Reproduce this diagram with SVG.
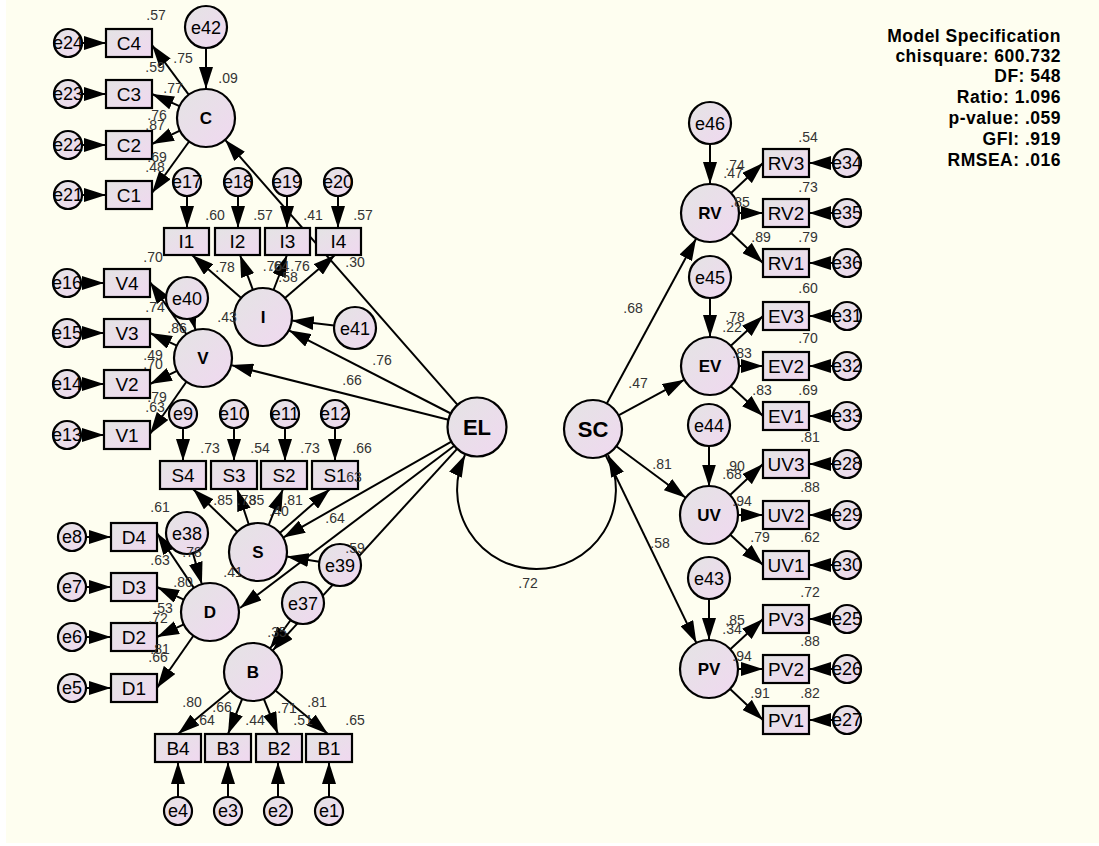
<svg xmlns="http://www.w3.org/2000/svg" width="1099" height="846" viewBox="0 0 1099 846">
<defs>
<linearGradient id="g" x1="0" y1="0" x2="1" y2="1"><stop offset="0" stop-color="#E4E4E4"/><stop offset="1" stop-color="#F0D8F0"/></linearGradient>
<marker id="ah" markerUnits="userSpaceOnUse" markerWidth="22" markerHeight="14" viewBox="0 0 22 14" refX="22" refY="7" orient="auto"><path d="M0,0 L22,7 L0,14 z" fill="#000"/></marker>
<marker id="ah2" markerUnits="userSpaceOnUse" markerWidth="22" markerHeight="14" viewBox="0 0 22 14" refX="22" refY="7" orient="auto-start-reverse"><path d="M0,0 L22,7 L0,14 z" fill="#000"/></marker>
<style>
.c path{stroke:#000;stroke-width:2;fill:none;marker-end:url(#ah)}
.n circle,.n rect{fill:url(#g);stroke:#000;stroke-width:2.2}
text{font-family:"Liberation Sans",Arial,sans-serif;text-anchor:middle}
.l{font-weight:bold;font-size:17px}
.L{font-weight:bold;font-size:22px}
.o{font-size:19px}
.e{font-size:18px}
.E{font-size:18px}
.v{font-size:14px;fill:#333}
.m{font-weight:bold;font-size:17.5px;letter-spacing:0.5px;text-anchor:end}
</style>
</defs>
<rect width="1099" height="846" fill="#fff"/>
<rect x="6" y="0" width="1093" height="843" fill="#FEFEF0"/>
<g id="connectors" class="c">
<path d="M82,43 L106,43"/><path d="M82,94 L106,94"/><path d="M82,145 L106,145"/><path d="M82,195 L106,195"/>
<path d="M81,283 L104,283"/><path d="M81,333 L104,333"/><path d="M81,384 L104,384"/><path d="M81,435 L104,435"/>
<path d="M86,537 L111,537"/><path d="M86,587 L111,587"/><path d="M86,637 L111,637"/><path d="M86,688 L111,688"/>
<path d="M187,196 L187,228"/><path d="M238,196 L238,228"/><path d="M287,196 L287,228"/><path d="M338,196 L338,228"/>
<path d="M183,428 L183,461"/><path d="M234,428 L234,461"/><path d="M285,428 L285,461"/><path d="M335,428 L335,461"/>
<path d="M178,797 L178,762"/><path d="M228,797 L228,762"/><path d="M278,797 L278,762"/><path d="M329,797 L329,762"/>
<path d="M833,163 L809,163"/><path d="M833,213 L809,213"/><path d="M833,263 L809,263"/>
<path d="M833,316 L809,316"/><path d="M833,366 L809,366"/><path d="M833,416 L809,416"/>
<path d="M833,464 L809,464"/><path d="M833,515 L809,515"/><path d="M833,565 L809,565"/>
<path d="M833,619 L809,619"/><path d="M833,669 L809,669"/><path d="M833,720 L809,720"/>
<path d="M188.7,94.7 L152,45"/><path d="M179.5,106.2 L152,94"/><path d="M179.9,130.6 L152,144"/><path d="M189.1,141.5 L152,193"/>
<path d="M186.4,334.2 L150,282"/><path d="M176.8,345.6 L150,333"/><path d="M177,370.8 L150,384"/><path d="M186.4,381.8 L150,434"/>
<path d="M241.2,297.9 L192,255"/><path d="M252.9,289.8 L240,255"/><path d="M273.5,290 L287,255"/><path d="M285,298.1 L335,255"/>
<path d="M237.2,531.8 L193,489"/><path d="M248.8,524.5 L237,489"/><path d="M268.7,525 L283,489"/><path d="M279.8,532.9 L330,489"/>
<path d="M193.8,587.9 L157,533"/><path d="M183.8,599.6 L157,587"/><path d="M183.8,624.4 L157,637"/><path d="M193.4,635.8 L157,688"/>
<path d="M230.6,690.5 L178,734"/><path d="M242.2,698.9 L228,734"/><path d="M263.8,698.9 L278,734"/><path d="M275.4,690.5 L328,734"/>
<path d="M731.1,193.1 L763,163"/><path d="M739,213 L763,213"/><path d="M731.1,232.9 L763,263"/>
<path d="M731.1,345.4 L763,316"/><path d="M739,366 L763,366"/><path d="M731.1,386.6 L763,416"/>
<path d="M730.1,495.1 L763,464"/><path d="M738,515 L763,515"/><path d="M730.3,534.7 L763,565"/>
<path d="M730.3,649.3 L763,619"/><path d="M738,669 L763,669"/><path d="M730.1,688.9 L763,720"/>
<path d="M206,48 L206,89"/><path d="M710,144 L710,184"/><path d="M710,298 L710,337"/><path d="M709,446 L709,486.5"/><path d="M709,599 L709,640"/>
<path d="M192.4,318.3 L195.5,330"/><path d="M334.2,325.5 L291.8,320.4"/><path d="M192.9,553.2 L201.9,584.2"/><path d="M319.3,561.7 L286.7,556.6"/><path d="M290.7,620 L270,648.5"/>
<path d="M457.6,404.8 L225.1,139.8"/><path d="M450.8,413.5 L288.8,330.3"/><path d="M448.4,419.8 L231.1,365.1"/><path d="M451.4,441.6 L283.2,537.6"/><path d="M454,446 L240,608"/><path d="M457.1,448.8 L272.6,650.6"/>
<path d="M606.8,403.5 L696.2,238.5"/><path d="M618.5,415.3 L684.5,379.7"/><path d="M616.3,446.3 L685.7,497.7"/><path d="M605.6,455.1 L696.4,642.9"/>
<path d="M465,455 A79.4,79.4 0 1 0 608,455" style="marker-start:url(#ah2);marker-end:url(#ah2)"/>
</g>
<g class="n">
<g id="C"><circle cx="206" cy="118" r="29"/><text x="206" y="124" class="l">C</text></g>
<g id="I"><circle cx="263" cy="317" r="29"/><text x="263" y="323" class="l">I</text></g>
<g id="V"><circle cx="203" cy="358" r="29"/><text x="203" y="364" class="l">V</text></g>
<g id="S"><circle cx="258" cy="552" r="29"/><text x="258" y="558" class="l">S</text></g>
<g id="D"><circle cx="210" cy="612" r="29"/><text x="210" y="618" class="l">D</text></g>
<g id="B"><circle cx="253" cy="672" r="29"/><text x="253" y="678" class="l">B</text></g>
<g id="EL"><circle cx="477" cy="427" r="29.5"/><text x="477" y="435" class="L">EL</text></g>
<g id="SC"><circle cx="593" cy="429" r="29"/><text x="593" y="437" class="L">SC</text></g>
<g id="RV"><circle cx="710" cy="213" r="29"/><text x="710" y="219" class="l">RV</text></g>
<g id="EV"><circle cx="710" cy="366" r="29"/><text x="710" y="372" class="l">EV</text></g>
<g id="UV"><circle cx="709" cy="515" r="29"/><text x="709" y="521" class="l">UV</text></g>
<g id="PV"><circle cx="709" cy="669" r="29"/><text x="709" y="675" class="l">PV</text></g>
<g id="e42"><circle cx="206" cy="27" r="21"/><text x="206" y="33.5" class="E">e42</text></g>
<g id="e40"><circle cx="187" cy="298" r="21"/><text x="187" y="304.5" class="E">e40</text></g>
<g id="e41"><circle cx="355" cy="328" r="21"/><text x="355" y="334.5" class="E">e41</text></g>
<g id="e38"><circle cx="187" cy="533" r="21"/><text x="187" y="539.5" class="E">e38</text></g>
<g id="e39"><circle cx="340" cy="565" r="21"/><text x="340" y="571.5" class="E">e39</text></g>
<g id="e37"><circle cx="303" cy="603" r="21"/><text x="303" y="609.5" class="E">e37</text></g>
<g id="e46"><circle cx="710" cy="123" r="21"/><text x="710" y="129.5" class="E">e46</text></g>
<g id="e45"><circle cx="710" cy="277" r="21"/><text x="710" y="283.5" class="E">e45</text></g>
<g id="e44"><circle cx="709" cy="425" r="21"/><text x="709" y="431.5" class="E">e44</text></g>
<g id="e43"><circle cx="709" cy="578" r="21"/><text x="709" y="584.5" class="E">e43</text></g>
<g id="C4"><rect x="106" y="29" width="46" height="28"/><text x="129" y="49.8" class="o">C4</text></g>
<g id="C3"><rect x="106" y="80" width="46" height="28"/><text x="129" y="100.8" class="o">C3</text></g>
<g id="C2"><rect x="106" y="131" width="46" height="28"/><text x="129" y="151.8" class="o">C2</text></g>
<g id="C1"><rect x="106" y="181" width="46" height="28"/><text x="129" y="201.8" class="o">C1</text></g>
<g id="V4"><rect x="104" y="269" width="46" height="28"/><text x="127" y="289.8" class="o">V4</text></g>
<g id="V3"><rect x="104" y="319" width="46" height="28"/><text x="127" y="339.8" class="o">V3</text></g>
<g id="V2"><rect x="104" y="370" width="46" height="28"/><text x="127" y="390.8" class="o">V2</text></g>
<g id="V1"><rect x="104" y="421" width="46" height="28"/><text x="127" y="441.8" class="o">V1</text></g>
<g id="D4"><rect x="111" y="523" width="46" height="28"/><text x="134" y="543.8" class="o">D4</text></g>
<g id="D3"><rect x="111" y="573" width="46" height="28"/><text x="134" y="593.8" class="o">D3</text></g>
<g id="D2"><rect x="111" y="623" width="46" height="28"/><text x="134" y="643.8" class="o">D2</text></g>
<g id="D1"><rect x="111" y="674" width="46" height="28"/><text x="134" y="694.8" class="o">D1</text></g>
<g id="I1"><rect x="164" y="228" width="45" height="27"/><text x="186.5" y="248.3" class="o">I1</text></g>
<g id="I2"><rect x="215" y="228" width="45" height="27"/><text x="237.5" y="248.3" class="o">I2</text></g>
<g id="I3"><rect x="265" y="228" width="45" height="27"/><text x="287.5" y="248.3" class="o">I3</text></g>
<g id="I4"><rect x="316" y="228" width="45" height="27"/><text x="338.5" y="248.3" class="o">I4</text></g>
<g id="S4"><rect x="160" y="461" width="46" height="28"/><text x="183" y="481.8" class="o">S4</text></g>
<g id="S3"><rect x="211" y="461" width="46" height="28"/><text x="234" y="481.8" class="o">S3</text></g>
<g id="S2"><rect x="261" y="461" width="46" height="28"/><text x="284" y="481.8" class="o">S2</text></g>
<g id="S1"><rect x="312" y="461" width="46" height="28"/><text x="335" y="481.8" class="o">S1</text></g>
<g id="B4"><rect x="155" y="734" width="46" height="28"/><text x="178" y="754.8" class="o">B4</text></g>
<g id="B3"><rect x="205" y="734" width="46" height="28"/><text x="228" y="754.8" class="o">B3</text></g>
<g id="B2"><rect x="256" y="734" width="46" height="28"/><text x="279" y="754.8" class="o">B2</text></g>
<g id="B1"><rect x="306" y="734" width="46" height="28"/><text x="329" y="754.8" class="o">B1</text></g>
<g id="RV3"><rect x="763" y="149" width="46" height="28"/><text x="786" y="169.8" class="o">RV3</text></g>
<g id="RV2"><rect x="763" y="199" width="46" height="28"/><text x="786" y="219.8" class="o">RV2</text></g>
<g id="RV1"><rect x="763" y="249" width="46" height="28"/><text x="786" y="269.8" class="o">RV1</text></g>
<g id="EV3"><rect x="763" y="302" width="46" height="28"/><text x="786" y="322.8" class="o">EV3</text></g>
<g id="EV2"><rect x="763" y="352" width="46" height="28"/><text x="786" y="372.8" class="o">EV2</text></g>
<g id="EV1"><rect x="763" y="402" width="46" height="28"/><text x="786" y="422.8" class="o">EV1</text></g>
<g id="UV3"><rect x="763" y="450" width="46" height="28"/><text x="786" y="470.8" class="o">UV3</text></g>
<g id="UV2"><rect x="763" y="501" width="46" height="28"/><text x="786" y="521.8" class="o">UV2</text></g>
<g id="UV1"><rect x="763" y="551" width="46" height="28"/><text x="786" y="571.8" class="o">UV1</text></g>
<g id="PV3"><rect x="763" y="605" width="46" height="28"/><text x="786" y="625.8" class="o">PV3</text></g>
<g id="PV2"><rect x="763" y="655" width="46" height="28"/><text x="786" y="675.8" class="o">PV2</text></g>
<g id="PV1"><rect x="763" y="706" width="46" height="28"/><text x="786" y="726.8" class="o">PV1</text></g>
<g id="e24"><circle cx="68" cy="43" r="14"/><text x="68" y="49.3" class="e">e24</text></g>
<g id="e23"><circle cx="68" cy="94" r="14"/><text x="68" y="100.3" class="e">e23</text></g>
<g id="e22"><circle cx="68" cy="145" r="14"/><text x="68" y="151.3" class="e">e22</text></g>
<g id="e21"><circle cx="68" cy="195" r="14"/><text x="68" y="201.3" class="e">e21</text></g>
<g id="e16"><circle cx="67" cy="283" r="14"/><text x="67" y="289.3" class="e">e16</text></g>
<g id="e15"><circle cx="67" cy="333" r="14"/><text x="67" y="339.3" class="e">e15</text></g>
<g id="e14"><circle cx="67" cy="384" r="14"/><text x="67" y="390.3" class="e">e14</text></g>
<g id="e13"><circle cx="67" cy="435" r="14"/><text x="67" y="441.3" class="e">e13</text></g>
<g id="e8"><circle cx="72" cy="537" r="14"/><text x="72" y="543.3" class="e">e8</text></g>
<g id="e7"><circle cx="72" cy="587" r="14"/><text x="72" y="593.3" class="e">e7</text></g>
<g id="e6"><circle cx="72" cy="637" r="14"/><text x="72" y="643.3" class="e">e6</text></g>
<g id="e5"><circle cx="72" cy="688" r="14"/><text x="72" y="694.3" class="e">e5</text></g>
<g id="e17"><circle cx="187" cy="182" r="14"/><text x="187" y="188.3" class="e">e17</text></g>
<g id="e18"><circle cx="238" cy="182" r="14"/><text x="238" y="188.3" class="e">e18</text></g>
<g id="e19"><circle cx="287" cy="182" r="14"/><text x="287" y="188.3" class="e">e19</text></g>
<g id="e20"><circle cx="338" cy="182" r="14"/><text x="338" y="188.3" class="e">e20</text></g>
<g id="e9"><circle cx="183" cy="414" r="14"/><text x="183" y="420.3" class="e">e9</text></g>
<g id="e10"><circle cx="234" cy="414" r="14"/><text x="234" y="420.3" class="e">e10</text></g>
<g id="e11"><circle cx="285" cy="414" r="14"/><text x="285" y="420.3" class="e">e11</text></g>
<g id="e12"><circle cx="335" cy="414" r="14"/><text x="335" y="420.3" class="e">e12</text></g>
<g id="e4"><circle cx="178" cy="811" r="14"/><text x="178" y="817.3" class="e">e4</text></g>
<g id="e3"><circle cx="228" cy="811" r="14"/><text x="228" y="817.3" class="e">e3</text></g>
<g id="e2"><circle cx="278" cy="811" r="14"/><text x="278" y="817.3" class="e">e2</text></g>
<g id="e1"><circle cx="329" cy="811" r="14"/><text x="329" y="817.3" class="e">e1</text></g>
<g id="e34"><circle cx="847" cy="163" r="14"/><text x="847" y="169.3" class="e">e34</text></g>
<g id="e35"><circle cx="847" cy="213" r="14"/><text x="847" y="219.3" class="e">e35</text></g>
<g id="e36"><circle cx="847" cy="263" r="14"/><text x="847" y="269.3" class="e">e36</text></g>
<g id="e31"><circle cx="847" cy="316" r="14"/><text x="847" y="322.3" class="e">e31</text></g>
<g id="e32"><circle cx="847" cy="366" r="14"/><text x="847" y="372.3" class="e">e32</text></g>
<g id="e33"><circle cx="847" cy="416" r="14"/><text x="847" y="422.3" class="e">e33</text></g>
<g id="e28"><circle cx="847" cy="464" r="14"/><text x="847" y="470.3" class="e">e28</text></g>
<g id="e29"><circle cx="847" cy="515" r="14"/><text x="847" y="521.3" class="e">e29</text></g>
<g id="e30"><circle cx="847" cy="565" r="14"/><text x="847" y="571.3" class="e">e30</text></g>
<g id="e25"><circle cx="847" cy="619" r="14"/><text x="847" y="625.3" class="e">e25</text></g>
<g id="e26"><circle cx="847" cy="669" r="14"/><text x="847" y="675.3" class="e">e26</text></g>
<g id="e27"><circle cx="847" cy="720" r="14"/><text x="847" y="726.3" class="e">e27</text></g>
</g>
<g id="values" class="v">
<text x="156" y="20">.57</text><text x="183" y="63">.75</text><text x="155" y="72">.59</text><text x="228" y="83">.09</text>
<text x="173" y="93">.77</text><text x="157" y="120">.76</text><text x="155" y="130">.87</text><text x="157" y="162">.69</text><text x="155" y="172">.48</text>
<text x="215" y="220">.60</text><text x="263" y="220">.57</text><text x="313" y="220">.41</text><text x="363" y="220">.57</text>
<text x="153" y="262">.70</text><text x="225" y="272">.78</text><text x="272.5" y="271">.76</text><text x="279.5" y="271">.64</text>
<text x="300" y="271">.76</text><text x="288" y="282">.58</text><text x="355" y="267">.30</text><text x="227" y="322">.43</text>
<text x="382" y="365">.76</text><text x="352" y="385">.66</text>
<text x="155" y="312">.74</text><text x="177" y="333">.86</text><text x="153" y="360">.49</text><text x="153" y="369">.70</text><text x="157" y="402">.79</text><text x="155" y="412">.63</text>
<text x="210" y="453">.73</text><text x="260" y="453">.54</text><text x="310" y="453">.73</text><text x="362" y="453">.66</text>
<text x="160" y="512">.61</text><text x="223" y="505">.85</text><text x="246.5" y="505">.73</text><text x="254.5" y="505">.85</text>
<text x="293" y="505">.81</text><text x="279" y="516">.40</text><text x="352" y="482">.63</text><text x="335" y="523">.64</text><text x="355" y="553">.59</text>
<text x="192" y="557">.78</text><text x="160" y="565">.63</text><text x="183" y="587">.80</text><text x="233" y="577">.41</text>
<text x="163" y="613">.53</text><text x="158" y="623">.72</text><text x="160" y="654">.81</text><text x="158" y="662">.66</text><text x="277" y="637">.35</text>
<text x="192" y="707">.80</text><text x="222" y="712">.66</text><text x="205" y="725">.64</text><text x="255" y="725">.44</text>
<text x="287" y="713">.71</text><text x="317" y="707">.81</text><text x="303" y="725">.51</text><text x="355" y="725">.65</text>
<text x="808" y="142">.54</text><text x="808" y="192">.73</text><text x="808" y="242">.79</text><text x="808" y="293">.60</text>
<text x="735" y="170">.74</text><text x="733" y="178">.47</text><text x="740" y="207">.85</text><text x="761" y="242">.89</text>
<text x="735" y="322">.78</text><text x="732" y="332">.22</text><text x="742" y="358">.83</text><text x="762" y="395">.83</text>
<text x="808" y="343">.70</text><text x="808" y="395">.69</text><text x="810" y="442">.81</text>
<text x="735" y="471">.90</text><text x="732" y="479">.68</text><text x="810" y="492">.88</text><text x="742" y="506">.94</text>
<text x="760" y="542">.79</text><text x="810" y="542">.62</text><text x="810" y="597">.72</text>
<text x="735" y="625">.85</text><text x="732" y="634">.34</text><text x="810" y="646">.88</text><text x="742" y="661">.94</text>
<text x="760" y="698">.91</text><text x="810" y="698">.82</text>
<text x="633" y="313">.68</text><text x="638" y="388">.47</text><text x="662" y="469">.81</text><text x="660" y="548">.58</text>
<text x="528" y="588">.72</text>
</g>
<g id="model-spec">
<text x="1061" y="42" class="m">Model Specification</text>
<text x="1061" y="62" class="m">chisquare: 600.732</text>
<text x="1061" y="82" class="m">DF: 548</text>
<text x="1061" y="103" class="m">Ratio: 1.096</text>
<text x="1061" y="124" class="m">p-value: .059</text>
<text x="1061" y="145" class="m">GFI: .919</text>
<text x="1061" y="166" class="m">RMSEA: .016</text>
</g>
</svg>
